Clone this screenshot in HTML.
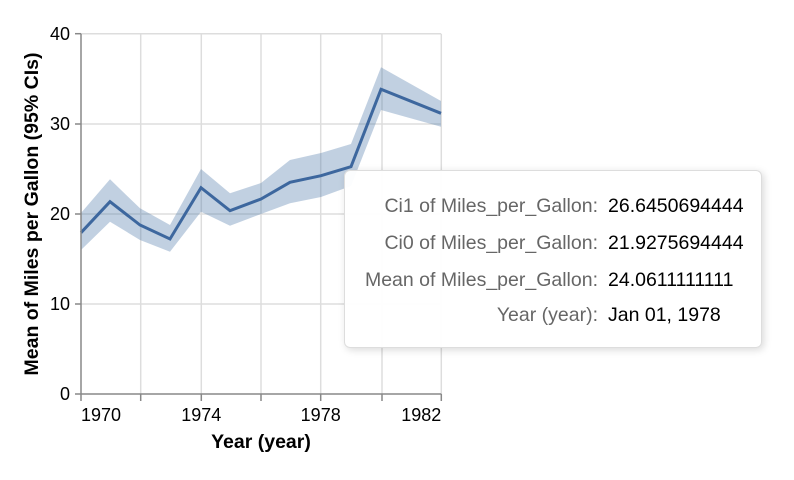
<!DOCTYPE html>
<html><head><meta charset="utf-8"><style>
html,body{margin:0;padding:0;background:#fff;}
body{width:794px;height:480px;position:relative;overflow:hidden;font-family:"Liberation Sans",sans-serif;}
.tt{position:absolute;left:344px;top:170px;width:418px;height:178px;box-sizing:border-box;background:rgba(255,255,255,0.95);border:1px solid #ddd;border-radius:6px;box-shadow:2px 2px 8px rgba(0,0,0,0.15);font-size:19.5px;}
.row{position:absolute;left:0;width:100%;}
.k{position:absolute;right:163px;color:#666;white-space:nowrap;}
.v{position:absolute;left:263px;color:#000;white-space:nowrap;}
</style></head><body>
<svg width="794" height="480" style="position:absolute;left:0;top:0">
<g stroke="#ddd" stroke-width="1.5">
<line x1="81" y1="33.7" x2="441" y2="33.7"/><line x1="81" y1="124" x2="441" y2="124"/><line x1="81" y1="214" x2="441" y2="214"/><line x1="81" y1="304" x2="441" y2="304"/>
<line x1="140.7" y1="33.7" x2="140.7" y2="394"/><line x1="201.3" y1="33.7" x2="201.3" y2="394"/><line x1="261" y1="33.7" x2="261" y2="394"/><line x1="320.7" y1="33.7" x2="320.7" y2="394"/><line x1="382" y1="33.7" x2="382" y2="394"/><line x1="441.3" y1="33.7" x2="441.3" y2="394"/>
</g>
<polygon fill="#4c78a8" fill-opacity="0.35" points="81,213 110,179.3 140,208.3 170,225 201,169 230,193.3 261,183 290,160 321,153 351,144 381,67.3 441,101 441,126.7 381,110 351,186 321,197 290,203.3 261,214 230,225.7 201,211.7 170,251.7 140,240 110,221.7 81,250"/>
<polyline fill="none" stroke="#3d679e" stroke-width="3" points="81,232.7 110,201.7 140,225 170,239 201,187.7 230,210.7 261,199 290,182.3 321,175.7 351,166.7 381,89.3 441,113.3"/>
<g stroke="#888" stroke-width="1.5">
<line x1="81" y1="33.7" x2="81" y2="394"/><line x1="81" y1="394" x2="441.3" y2="394"/>
<line x1="75" y1="33.7" x2="81" y2="33.7"/><line x1="75" y1="124" x2="81" y2="124"/><line x1="75" y1="214" x2="81" y2="214"/><line x1="75" y1="304" x2="81" y2="304"/><line x1="75" y1="394" x2="81" y2="394"/>
<line x1="81" y1="394" x2="81" y2="401"/><line x1="140.7" y1="394" x2="140.7" y2="401"/><line x1="201.3" y1="394" x2="201.3" y2="401"/><line x1="261" y1="394" x2="261" y2="401"/><line x1="320.7" y1="394" x2="320.7" y2="401"/><line x1="382" y1="394" x2="382" y2="401"/><line x1="441.3" y1="394" x2="441.3" y2="401"/>
</g>
<g font-size="18" fill="#000" text-anchor="end">
<text x="70" y="40">40</text><text x="70" y="130">30</text><text x="70" y="220">20</text><text x="70" y="310">10</text><text x="70" y="400">0</text>
</g>
<g font-size="18" fill="#000">
<text x="81" y="421">1970</text><text x="201.3" y="421" text-anchor="middle">1974</text><text x="320.7" y="421" text-anchor="middle">1978</text><text x="441.3" y="421" text-anchor="end">1982</text>
</g>
<text x="261" y="448" font-size="19.5" font-weight="bold" text-anchor="middle">Year (year)</text>
<text transform="translate(38,214) rotate(-90)" font-size="19.5" font-weight="bold" text-anchor="middle">Mean of Miles per Gallon (95% CIs)</text>
</svg>
<div class="tt">
<div class="row" style="top:24px"><span class="k">Ci1 of Miles_per_Gallon:</span><span class="v">26.6450694444</span></div>
<div class="row" style="top:61px"><span class="k">Ci0 of Miles_per_Gallon:</span><span class="v">21.9275694444</span></div>
<div class="row" style="top:98px"><span class="k">Mean of Miles_per_Gallon:</span><span class="v">24.0611111111</span></div>
<div class="row" style="top:133px"><span class="k">Year (year):</span><span class="v">Jan 01, 1978</span></div>
</div>
</body></html>
